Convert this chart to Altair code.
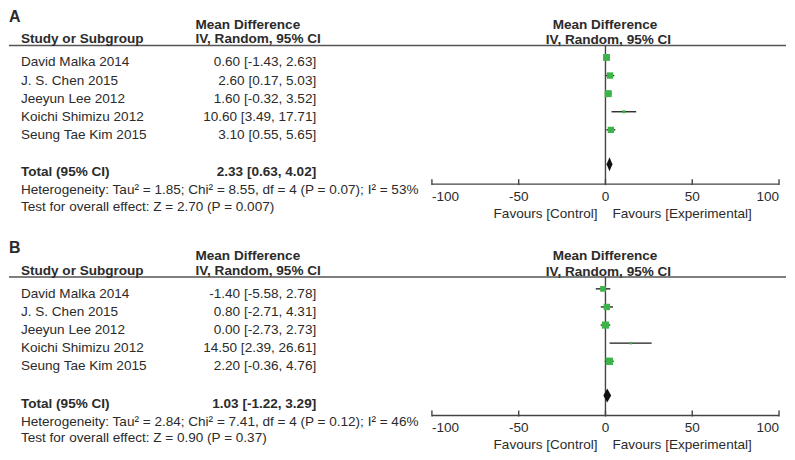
import altair as alt
import pandas as pd

# ---------------- data ----------------
studies = ["David Malka 2014", "J. S. Chen 2015", "Jeeyun Lee 2012",
           "Koichi Shimizu 2012", "Seung Tae Kim 2015"]

a_md = [0.60, 2.60, 1.60, 10.60, 3.10]
a_lo = [-1.43, 0.17, -0.32, 3.49, 0.55]
a_hi = [2.63, 5.03, 3.52, 17.71, 5.65]
a_weight = [25.5, 22.0, 26.5, 4.9, 21.1]
a_total = [2.33, 0.63, 4.02]
a_het = "Heterogeneity: Tau² = 1.85; Chi² = 8.55, df = 4 (P = 0.07); I² = 53%"
a_test = "Test for overall effect: Z = 2.70 (P = 0.007)"

b_md = [-1.40, 0.80, 0.00, 14.50, 2.20]
b_lo = [-5.58, -2.71, -2.73, 2.39, -0.36]
b_hi = [2.78, 4.31, 2.73, 26.61, 4.76]
b_weight = [17.9, 21.9, 27.8, 3.2, 29.2]
b_total = [1.03, -1.22, 3.29]
b_het = "Heterogeneity: Tau² = 2.84; Chi² = 7.41, df = 4 (P = 0.12); I² = 46%"
b_test = "Test for overall effect: Z = 0.90 (P = 0.37)"

x_ticks = [-100, -50, 0, 50, 100]

# ---------------- style ----------------
FONT = "Liberation Sans"
TXT = "#2b2b2b"
GREEN = "#3cb449"
FS = 13.6

X = alt.Scale(domain=[-100, 100], range=[424, 772], nice=False, zero=False)
Y_TEXT = alt.Scale(domain=[0, 4], range=[57, 129.6], nice=False, zero=False)
Y_MARK = alt.Scale(domain=[0, 4], range=[48, 120.6], nice=False, zero=False)
Y_DIAM = alt.Scale(domain=[-1, 1], range=[162, 148], nice=False, zero=False)


def fmt(m, l, h):
    return f"{m:.2f} [{l:.2f}, {h:.2f}]"


def static_text(s, x, y, align="left", bold=False, size=FS):
    return alt.Chart(pd.DataFrame({"t": [s]})).mark_text(
        align=align, baseline="alphabetic", font=FONT, fontSize=size,
        fontWeight="bold" if bold else "normal", color=TXT
    ).encode(x=alt.value(x), y=alt.value(y), text="t:N")


def panel(letter, md, lo, hi, w, total, het, test, height):
    df = pd.DataFrame({
        "study": studies, "row": list(range(len(studies))),
        "md": md, "lo": lo, "hi": hi, "w": w,
        "ci": [fmt(m, l, h) for m, l, h in zip(md, lo, hi)],
    })
    base = alt.Chart(df)
    ytext = alt.Y("row:Q", scale=Y_TEXT, axis=None)
    ymark = alt.Y("row:Q", scale=Y_MARK, axis=None)

    names = base.mark_text(align="left", baseline="alphabetic", font=FONT,
                           fontSize=FS, color=TXT).encode(
        x=alt.value(12), y=ytext, text="study:N")
    vals = base.mark_text(align="right", baseline="alphabetic", font=FONT,
                          fontSize=FS, color=TXT).encode(
        x=alt.value(308), y=ytext, text="ci:N")

    ci = base.mark_rule(color="#1a1a1a", strokeWidth=1.3).encode(
        x=alt.X("lo:Q", scale=X, axis=None), x2="hi:Q", y=ymark)
    sq = base.mark_square(color=GREEN, opacity=1).encode(
        x=alt.X("md:Q", scale=X, axis=None), y=ymark,
        size=alt.Size("w:Q", scale=alt.Scale(domain=[0, 30], range=[0, 56]),
                      legend=None))

    diam_df = pd.DataFrame({"x": [total[1], total[0], total[2]],
                            "top": [0, 1, 0], "bot": [0, -1, 0]})
    diamond = alt.Chart(diam_df).mark_area(color="#111111", orient="vertical").encode(
        x=alt.X("x:Q", scale=X, axis=None),
        y=alt.Y("top:Q", scale=Y_DIAM, axis=None), y2="bot:Q")

    tdf = pd.DataFrame({"v": x_ticks, "lab": [str(t) for t in x_ticks]})
    tb = alt.Chart(tdf)
    axis_line = tb.mark_rule(color="#444444", strokeWidth=1.4).encode(
        x=alt.X("min(v):Q", scale=X, axis=None), x2="max(v):Q", y=alt.value(175))
    ticks = tb.mark_rule(color="#444444", strokeWidth=1.4).encode(
        x=alt.X("v:Q", scale=X, axis=None), y=alt.value(170), y2=alt.value(176))
    lab_kw = dict(baseline="alphabetic", font=FONT, fontSize=FS, color=TXT)
    lab_first = tb.transform_filter(alt.datum.v == min(x_ticks)).mark_text(
        align="left", **lab_kw).encode(x=alt.X("v:Q", scale=X, axis=None),
                                       y=alt.value(191.5), text="lab:N")
    lab_mid = tb.transform_filter(
        (alt.datum.v != min(x_ticks)) & (alt.datum.v != max(x_ticks))).mark_text(
        align="center", **lab_kw).encode(x=alt.X("v:Q", scale=X, axis=None),
                                         y=alt.value(191.5), text="lab:N")
    lab_last = tb.transform_filter(alt.datum.v == max(x_ticks)).mark_text(
        align="right", **lab_kw).encode(x=alt.X("v:Q", scale=X, axis=None),
                                        y=alt.value(191.5), text="lab:N")

    zero_df = pd.DataFrame({"v": [0]})
    zero_line = alt.Chart(zero_df).mark_rule(color="#444444", strokeWidth=1.4).encode(
        x=alt.X("v:Q", scale=X, axis=None), y=alt.value(36), y2=alt.value(175))
    fav_ctrl = alt.Chart(pd.DataFrame({"v": [0], "t": ["Favours [Control]"]})).mark_text(
        align="right", dx=-8, **lab_kw).encode(
        x=alt.X("v:Q", scale=X, axis=None), y=alt.value(209), text="t:N")
    fav_exp = alt.Chart(pd.DataFrame({"v": [0], "t": ["Favours [Experimental]"]})).mark_text(
        align="left", dx=7, **lab_kw).encode(
        x=alt.X("v:Q", scale=X, axis=None), y=alt.value(209), text="t:N")

    header_line = alt.Chart(pd.DataFrame({"v": [0]})).mark_rule(
        color="#555555", strokeWidth=1.5).encode(
        x=alt.value(0), x2=alt.value(779), y=alt.value(36))

    layers = [
        header_line, zero_line, axis_line, ticks,
        static_text(letter, 0, 12.5, bold=True, size=16),
        static_text("Mean Difference", 187, 19, bold=True),
        static_text("Study or Subgroup", 12, 34, bold=True),
        static_text("IV, Random, 95% CI", 187, 34, bold=True),
        static_text("Mean Difference", 597.5, 19, align="center", bold=True),
        static_text("IV, Random, 95% CI", 601, 35, align="center", bold=True),
        names, vals, ci, sq, diamond,
        static_text("Total (95% CI)", 12, 167, bold=True),
        static_text(fmt(*total), 308, 167, align="right", bold=True),
        static_text(het, 12, 185),
        static_text(test, 12, 202),
        lab_first, lab_mid, lab_last, fav_ctrl, fav_exp,
    ]
    return alt.layer(*layers).resolve_scale(y="independent").properties(
        width=779, height=height)


pa = panel("A", a_md, a_lo, a_hi, a_weight, a_total, a_het, a_test, 231)
pb = panel("B", b_md, b_lo, b_hi, b_weight, b_total, b_het, b_test, 215)

chart = alt.vconcat(pa, pb, spacing=0).properties(
    padding=0, background="white"
).configure_view(stroke=None)

chart.save("out.html", embed_options={"renderer": "svg", "actions": False})
